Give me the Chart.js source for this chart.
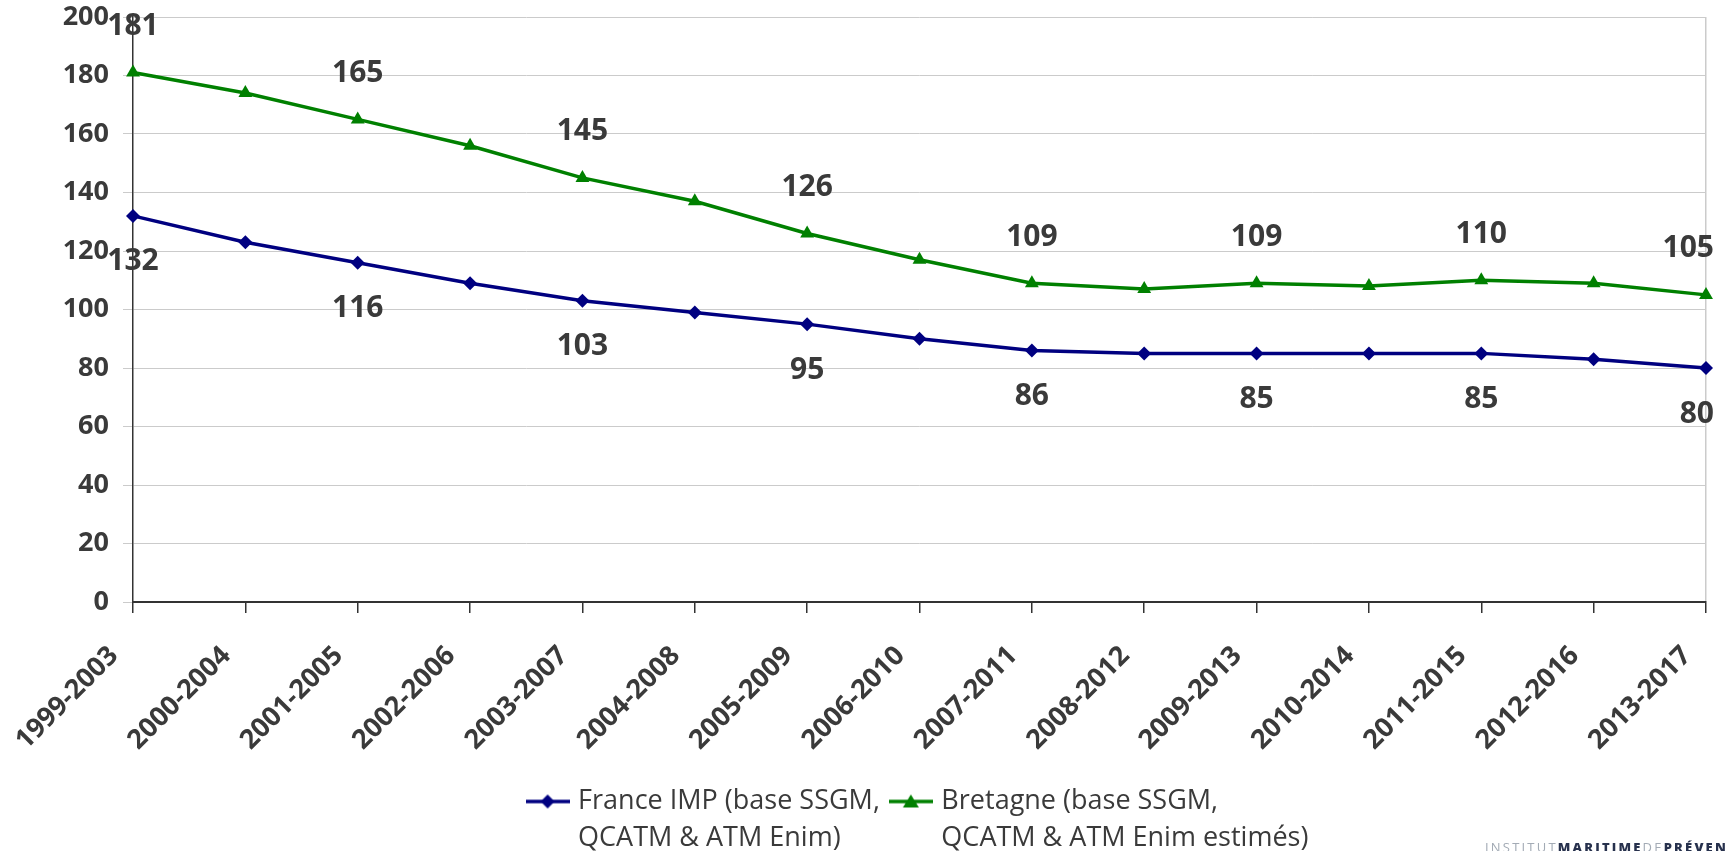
<!DOCTYPE html>
<html lang="fr">
<head>
<meta charset="utf-8">
<title>France IMP / Bretagne</title>
<script src="https://cdn.jsdelivr.net/npm/chart.js@4.4.1/dist/chart.umd.min.js"></script>
<style>
  html, body { margin: 0; padding: 0; background: #fff; overflow: hidden; }
  #wrap { position: relative; width: 1725px; height: 851px; }
  #logo {
    position: absolute; left: 1485px; top: 838px;
    font-family: 'Open Sans', sans-serif; font-size: 13px; letter-spacing: 2.2px;
    color: #a3abb5; white-space: nowrap;
  }
  #logo b { color: #27314d; font-weight: 800; }
</style>
</head>
<body>
<div id="wrap">
  <canvas id="chart"></canvas>
  <div id="logo">INSTITUT<b>MARITIME</b>DE<b>PRÉVENTION</b></div>
</div>
<script>
// ============================================
// DATA
// ============================================

const PERIODS = [
  "1999-2003", "2000-2004", "2001-2005", "2002-2006", "2003-2007",
  "2004-2008", "2005-2009", "2006-2010", "2007-2011", "2008-2012",
  "2009-2013", "2010-2014", "2011-2015", "2012-2016", "2013-2017"
];

const FRANCE = [132, 123, 116, 109, 103, 99, 95, 90, 86, 85, 85, 85, 85, 83, 80];
const BRETAGNE = [181, 174, 165, 156, 145, 137, 126, 117, 109, 107, 109, 108, 110, 109, 105];

const FRANCE_LEGEND = ["France IMP (base SSGM,", "QCATM & ATM Enim)"];
const BRETAGNE_LEGEND = ["Bretagne (base SSGM,", "QCATM & ATM Enim estimés)"];

const Y_MIN = 0;
const Y_MAX = 200;
const Y_STEP = 20;


const NAVY = "#000080";
const GREEN = "#008000";
const TEXT = "#3a3a3a";
const GRID = "#cbcbcb";
const AXIS = "#333333";
const FONT = "'Open Sans', sans-serif";

Chart.defaults.font.family = FONT;
Chart.defaults.color = TEXT;


// ============================================
// HELPERS
// ============================================

// legend text on two lines; toString gives the longest line so
// Chart.js measures the item width correctly
function multiline(lines) {
  const arr = lines.slice();
  const longest = lines.reduce((a, b) => a.length >= b.length ? a : b);
  arr.toString = () => longest;
  return arr;
}

// Excel style legend key: line with marker in the middle
function legendKey(color, shape) {
  const c = document.createElement("canvas");
  c.width = 44;
  c.height = 18;
  const g = c.getContext("2d");
  g.strokeStyle = color;
  g.lineWidth = 3.5;
  g.beginPath();
  g.moveTo(0, 9);
  g.lineTo(44, 9);
  g.stroke();
  g.fillStyle = color;
  g.beginPath();
  if (shape === "diamond") {
    g.moveTo(22, 2); g.lineTo(29, 9); g.lineTo(22, 16); g.lineTo(15, 9);
  } else {
    g.moveTo(22, 2); g.lineTo(30, 15); g.lineTo(14, 15);
  }
  g.closePath();
  g.fill();
  return c;
}


// value labels on every other point, above or below the line
const valueLabels = {
  id: "valueLabels",
  afterDatasetsDraw(chart) {
    const ctx = chart.ctx;
    const area = chart.chartArea;
    ctx.save();
    ctx.font = "bold 30px " + FONT;
    ctx.fillStyle = TEXT;
    ctx.textBaseline = "middle";
    ctx.textAlign = "center";
    chart.data.datasets.forEach((ds, di) => {
      const meta = chart.getDatasetMeta(di);
      const dy = ds.labelAbove ? -46 : 46;
      meta.data.forEach((pt, i) => {
        if (i % 2 !== 0) return;
        const text = String(ds.data[i]);
        const w = ctx.measureText(text).width;
        let x = pt.x;
        if (x + w / 2 > area.right + 8) x = area.right + 8 - w / 2;
        ctx.fillText(text, x, pt.y + dy);
      });
    });
    ctx.restore();
  }
};

// the legend clips to its own box; let the second text line show
const legendRoom = {
  id: "legendRoom",
  afterLayout(chart) {
    if (chart.legend) chart.legend.bottom = chart.height;
  }
};


// ============================================
// CHART
// ============================================

const LAST = PERIODS.length - 1;

new Chart(document.getElementById("chart"), {

  type: "line",

  data: {
    labels: PERIODS,
    datasets: [
      {
        label: FRANCE_LEGEND.join(" "),
        legendLines: FRANCE_LEGEND,
        legendKey: legendKey(NAVY, "diamond"),
        data: FRANCE,
        borderColor: NAVY,
        backgroundColor: NAVY,
        borderWidth: 3.5,
        pointStyle: "rectRot",
        pointRadius: 7,
        pointHoverRadius: 7,
        pointBorderWidth: 0,
        tension: 0,
        labelAbove: false
      },
      {
        label: BRETAGNE_LEGEND.join(" "),
        legendLines: BRETAGNE_LEGEND,
        legendKey: legendKey(GREEN, "triangle"),
        data: BRETAGNE,
        borderColor: GREEN,
        backgroundColor: GREEN,
        borderWidth: 3.5,
        pointStyle: "triangle",
        pointRadius: 8,
        pointHoverRadius: 8,
        pointBorderWidth: 0,
        tension: 0,
        labelAbove: true
      }
    ]
  },

  options: {
    responsive: true,
    maintainAspectRatio: false,
    animation: false,

    layout: {
      padding: { top: 17, right: 19, bottom: 26, left: 0 }
    },

    plugins: {
      tooltip: { enabled: false },
      legend: {
        position: "bottom",
        fullSize: false,
        labels: {
          usePointStyle: true,
          pointStyleWidth: 34,
          padding: 14,
          color: TEXT,
          font: { size: 27, lineHeight: 1.38 },
          generateLabels: chart => chart.data.datasets.map((ds, i) => ({
            text: multiline(ds.legendLines),
            pointStyle: ds.legendKey,
            fillStyle: ds.borderColor,
            strokeStyle: ds.borderColor,
            lineWidth: 0,
            fontColor: TEXT,
            datasetIndex: i
          }))
        }
      }
    },

    scales: {

      x: {
        offset: false,
        afterFit: scale => {
          scale.height = 172;
          scale.paddingLeft = 0;
          scale.paddingRight = 0;
        },
        border: { color: AXIS, width: 2 },
        grid: {
          color: c => c.index === LAST ? GRID : "rgba(0,0,0,0)",
          tickColor: AXIS,
          tickLength: 11,
          lineWidth: 1.5
        },
        ticks: {
          autoSkip: false,
          minRotation: 45,
          maxRotation: 45,
          padding: 38,
          labelOffset: -19,
          color: TEXT,
          font: { size: 27, weight: "bold", lineHeight: 0.05 }
        }
      },

      y: {
        min: Y_MIN,
        max: Y_MAX,
        afterFit: scale => {
          scale.width = 133;
          scale.paddingTop = 0;
          scale.paddingBottom = 0;
        },
        border: { color: AXIS, width: 1.5 },
        grid: {
          color: GRID,
          tickColor: GRID,
          tickLength: 10,
          lineWidth: 1
        },
        ticks: {
          stepSize: Y_STEP,
          padding: 14,
          color: TEXT,
          font: { size: 27, weight: "bold" }
        }
      }

    }
  },

  plugins: [valueLabels, legendRoom]

});
</script>
</body>
</html>
